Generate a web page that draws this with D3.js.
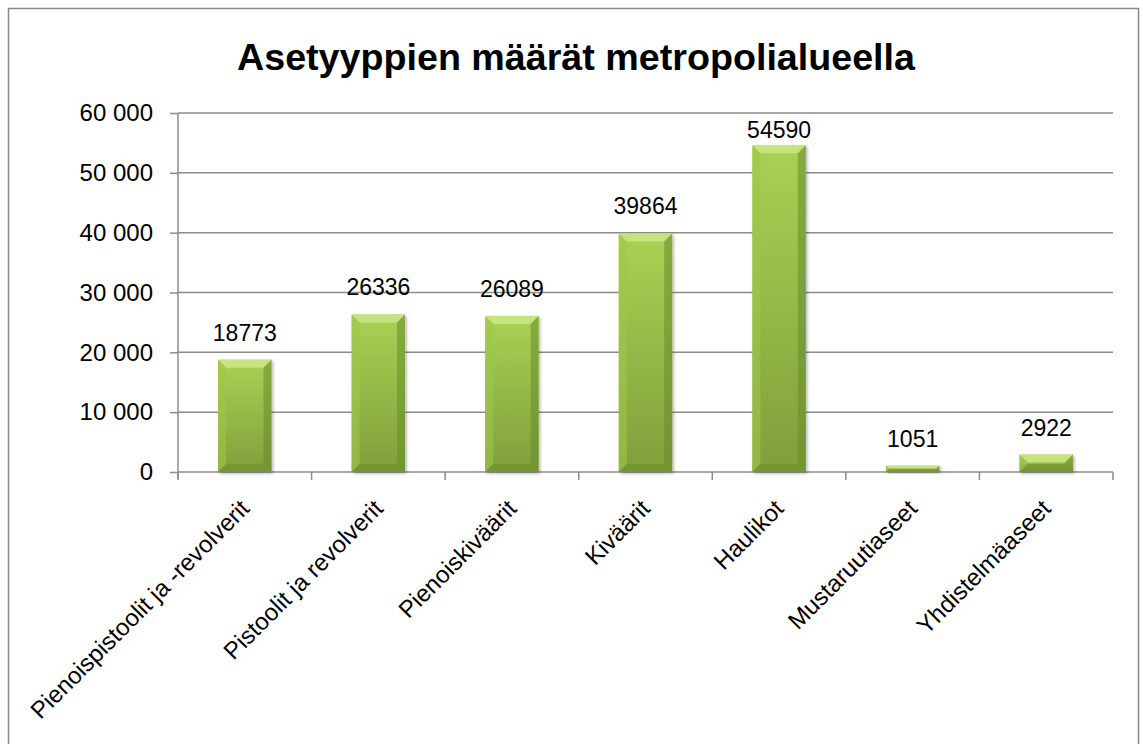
<!DOCTYPE html>
<html>
<head>
<meta charset="utf-8">
<script src="https://cdn.jsdelivr.net/npm/d3@7"></script>
<style>
  body { margin: 0; background: #fff; }
  text { font-family: "Liberation Sans", Arial, sans-serif; }
</style>
</head>
<body>
<svg id="chart" width="1143" height="744"></svg>
<script>
// chart data
const categories = ['Pienoispistoolit ja -revolverit', 'Pistoolit ja revolverit', 'Pienoiskiväärit',
                    'Kiväärit', 'Haulikot', 'Mustaruutiaseet', 'Yhdistelmäaseet'];
const counts = [18773, 26336, 26089, 39864, 54590, 1051, 2922];
const yTicks = [0, 10000, 20000, 30000, 40000, 50000, 60000];
const title = 'Asetyyppien määrät metropolialueella';

const svg = d3.select('#chart');
const plot = {'left': 178, 'right': 1113, 'top': 113, 'bottom': 472};
const gridColor = '#8c8c8c';
const bevel = 8;

const fi = d3.formatLocale({'decimal': ',', 'thousands': '\u00a0', 'grouping': [3], 'currency': ['', '']});
const fmt = fi.format(',d');

const x = d3.scaleBand()
    .domain(categories)
    .range([plot.left, plot.right])
    .paddingInner(0.6)
    .paddingOuter(0.3);

const y = d3.scaleLinear()
    .domain([0, 60000])
    .range([plot.bottom, plot.top]);

// outer frame
svg.append('rect')
    .attr('x', 8.5).attr('y', 8.5)
    .attr('width', 1130).attr('height', 760)
    .style('fill', 'none')
    .style('stroke', '#888')
    .style('stroke-width', 1.5);

// title
svg.append('text')
    .attr('x', 576).attr('y', 70)
    .attr('text-anchor', 'middle')
    .attr('textLength', 678)
    .attr('lengthAdjust', 'spacingAndGlyphs')
    .style('font-size', '37px')
    .style('font-weight', 'bold')
    .text(title);

// gradients
const defs = svg.append('defs');
const grad = defs.append('linearGradient')
    .attr('id', 'barGrad')
    .attr('x1', 0).attr('y1', 0).attr('x2', 0).attr('y2', 1);
grad.append('stop').attr('offset', '0%').attr('stop-color', '#a9d253');
grad.append('stop').attr('offset', '100%').attr('stop-color', '#7f9f3c');

const shadow = defs.append('filter').attr('id', 'barShadow')
    .attr('x', '-20%').attr('y', '-20%').attr('width', '140%').attr('height', '140%');
shadow.append('feDropShadow')
    .attr('dx', 1.5).attr('dy', 1.5).attr('stdDeviation', 1.5)
    .attr('flood-color', '#000').attr('flood-opacity', 0.3);

// y grid + axis
const yAxis = d3.axisLeft(y)
    .tickValues(yTicks)
    .tickSize(8)
    .tickPadding(17)
    .tickFormat(function(d) { return fmt(d); });

svg.append('g')
    .attr('id', 'grid')
    .selectAll('line')
    .data(yTicks)
    .enter().append('line')
    .attr('x1', plot.left).attr('x2', plot.right)
    .attr('y1', function(d) { return y(d); })
    .attr('y2', function(d) { return y(d); })
    .style('stroke', gridColor)
    .style('stroke-width', 1.5);

const gy = svg.append('g')
    .attr('transform', 'translate(' + plot.left + ',0)')
    .call(yAxis);
gy.select('.domain').remove();
gy.selectAll('line').style('stroke', gridColor).style('stroke-width', 1.5);
gy.selectAll('text')
    .style('font-size', '24px')
    .style('fill', '#000');

svg.append('line')
    .attr('x1', plot.left).attr('x2', plot.left)
    .attr('y1', plot.top).attr('y2', plot.bottom + 7)
    .style('stroke', gridColor)
    .style('stroke-width', 1.5);

// x ticks at category boundaries
svg.append('g')
    .selectAll('line')
    .data(d3.range(categories.length + 1))
    .enter().append('line')
    .attr('x1', function(d) { return plot.left + d * (plot.right - plot.left) / categories.length; })
    .attr('x2', function(d) { return plot.left + d * (plot.right - plot.left) / categories.length; })
    .attr('y1', plot.bottom).attr('y2', plot.bottom + 8)
    .style('stroke', gridColor)
    .style('stroke-width', 1.5);

// bars
const bars = svg.append('g').selectAll('g')
    .data(categories)
    .enter().append('g')
    .attr('transform', function(d) { return 'translate(' + x(d) + ',0)'; });

bars.append('rect')
    .attr('y', function(d, i) { return y(counts[i]); })
    .attr('width', x.bandwidth())
    .attr('height', function(d, i) { return plot.bottom - y(counts[i]); })
    .style('fill', 'url(#barGrad)')
    .attr('filter', 'url(#barShadow)');

// bevel edges
bars.each(function(d, i) {
    const g = d3.select(this);
    const w = x.bandwidth();
    const t = y(counts[i]);
    const b = plot.bottom;
    const e = Math.min(bevel, (b - t) / 2);
    const faces = [
        {'pts': [[0, t], [w, t], [w - e, t + e], [e, t + e]], 'fill': '#c8e684', 'op': 0.9},
        {'pts': [[0, t], [e, t + e], [e, b - e], [0, b]], 'fill': '#9fc64a', 'op': 0.6},
        {'pts': [[w, t], [w, b], [w - e, b - e], [w - e, t + e]], 'fill': '#6a8a2e', 'op': 0.55},
        {'pts': [[0, b], [e, b - e], [w - e, b - e], [w, b]], 'fill': '#6f8f31', 'op': 0.6}
    ];
    g.selectAll('polygon')
        .data(faces)
        .enter().append('polygon')
        .attr('points', function(f) { return f.pts.map(function(p) { return p.join(','); }).join(' '); })
        .style('fill', function(f) { return f.fill; })
        .style('opacity', function(f) { return f.op; });
});

// value labels (kept inside the plot area like the original)
bars.append('text')
    .attr('x', x.bandwidth() / 2)
    .attr('y', function(d, i) { return Math.max(y(counts[i]) - 19, plot.top + 25); })
    .attr('text-anchor', 'middle')
    .style('font-size', '23px')
    .text(function(d, i) { return counts[i]; });

// category labels
svg.append('g').selectAll('text')
    .data(categories)
    .enter().append('text')
    .attr('transform', function(d) {
        return 'translate(' + (x(d) + x.bandwidth() / 2 + 6) + ',' + (plot.bottom + 38) + ') rotate(-45)';
    })
    .attr('text-anchor', 'end')
    .style('font-size', '24px')
    .text(function(d) { return d; });
</script>
</body>
</html>
